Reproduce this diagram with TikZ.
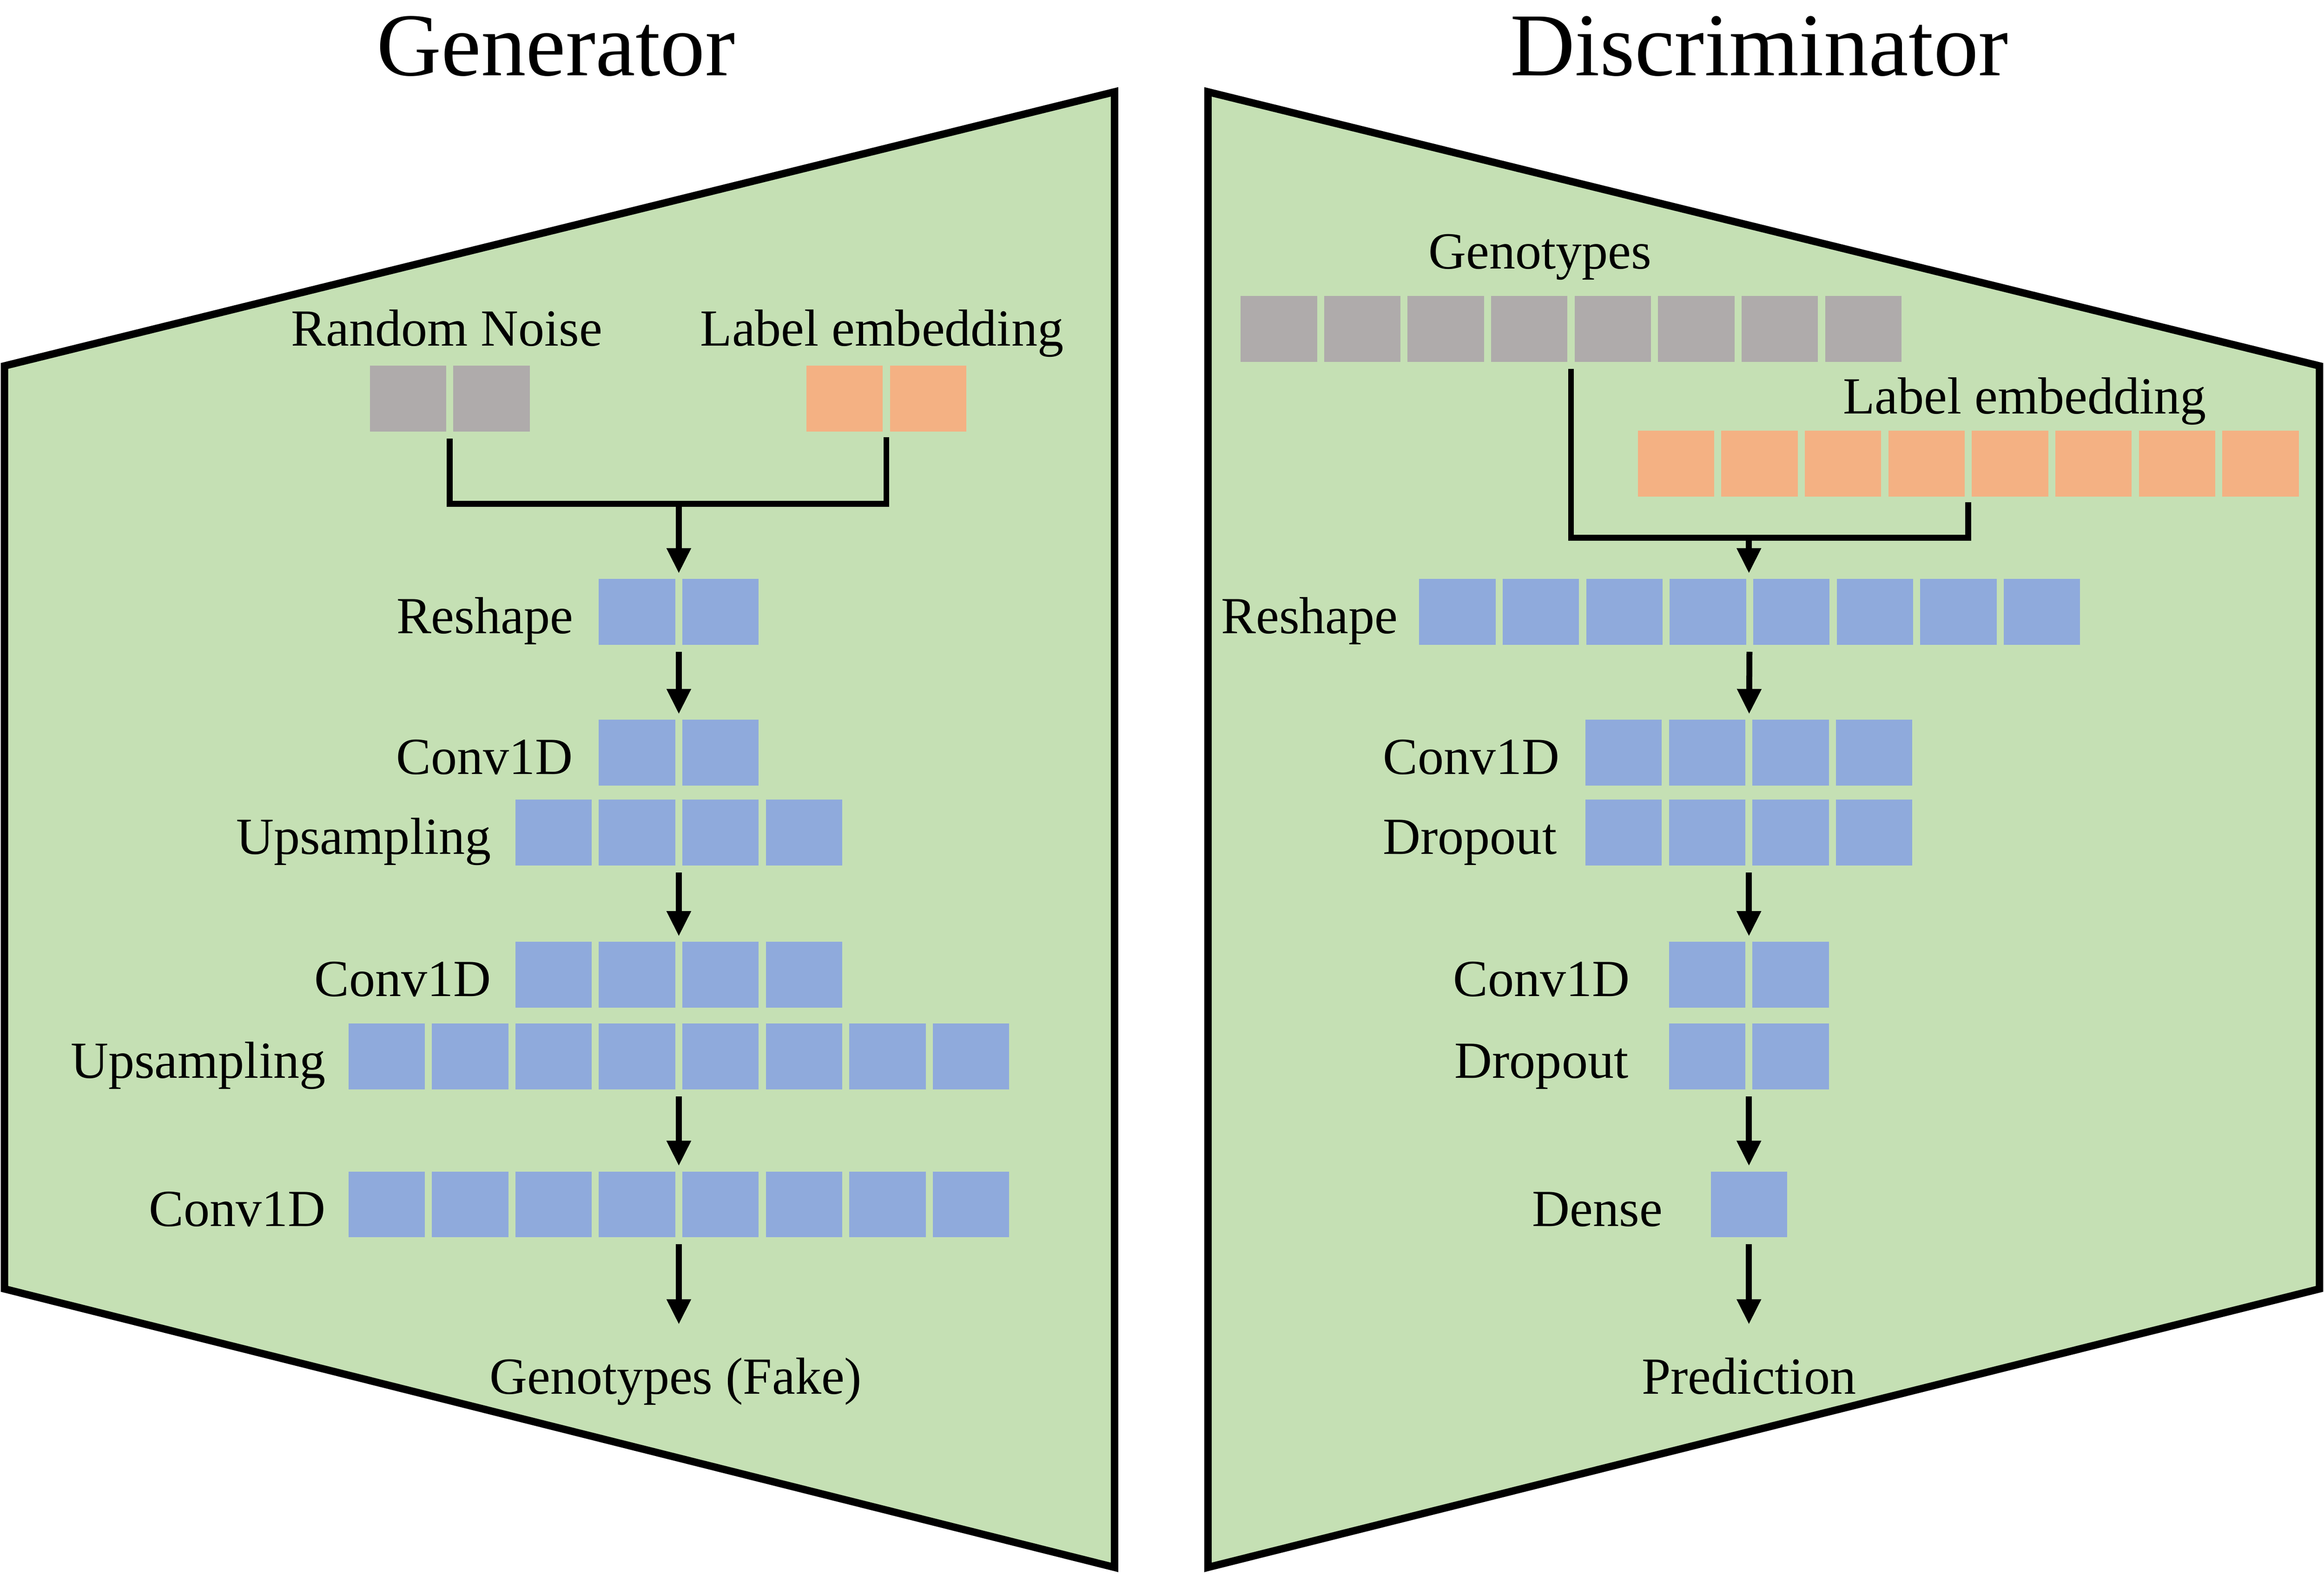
\documentclass[tikz,border=0pt]{standalone}
\usepackage{fontspec}
\setmainfont{Liberation Serif}
\usetikzlibrary{positioning}
\usetikzlibrary{arrows.meta}
\definecolor{panelgreen}{HTML}{C5E0B4}
\definecolor{noisegray}{HTML}{AFABAB}
\definecolor{embedorange}{HTML}{F4B183}
\definecolor{layerblue}{HTML}{8FAADC}
% one layer = a row of #3 cells, named #1, #1-1, #1-2, ...
\newcommand\layer[5]{%
  \node[row, minimum width={#3*0.563cm-0.048cm}] (#1) at (#4,#5) {};
  \foreach \i in {1,...,#3}
    \node[cell, fill=#2, anchor=west, xshift={(\i-1)*0.563cm}] (#1-\i) at (#1.west) {};
}

\begin{document}
\begin{tikzpicture}[x=0.01cm, y=-0.01cm,
  cell/.style={rectangle, inner sep=0, minimum width=0.515cm, minimum height=0.445cm},
  row/.style={rectangle, inner sep=0, minimum height=0.445cm},
  lbl/.style={inner sep=0, font=\fontsize{10}{12}\selectfont, text height=0.66em, text depth=0pt},
  sidelbl/.style={lbl, yshift=-0.03cm},
  outlbl/.style={lbl, inner ysep=0.2cm},
  title/.style={font=\fontsize{17.2}{20}\selectfont, inner sep=0, anchor=base},
  panel/.style={draw, line width=0.05cm, fill=panelgreen, line join=miter},
  conn/.style={line width=0.04cm, shorten <=0.04cm, shorten >=0.03cm},
  arr/.style={conn, -{Triangle[length=0.17cm, width=0.155cm]}}]
\useasboundingbox (0,0) rectangle (1568,1062.4);

% panels
\draw[panel] (3,247) -- (752,62) -- (752,1058) -- (3,870) -- cycle;
\draw[panel] (815,62) -- (1565,247) -- (1565,870) -- (815,1058) -- cycle;
\node[title] (genT) at (375,51) {Generator};
\node[title] (disT) at (1187,51) {Discriminator};

% generator
\layer{noiseG}{noisegray}{2}{303.5}{269}
\layer{embedG}{embedorange}{2}{598}{269}
\node[lbl, above=0.12cm of noiseG, xshift=-0.02cm] (noiseL) {Random Noise};
\node[lbl, above=0.12cm of embedG, xshift=-0.03cm] (embedGL) {Label embedding};
\coordinate (mergeG) at (458,340);
\layer{reshapeG}{layerblue}{2}{458}{413}
\layer{convaG}{layerblue}{2}{458}{508}
\layer{upaG}{layerblue}{4}{458}{562}
\layer{convbG}{layerblue}{4}{458}{658}
\layer{upbG}{layerblue}{8}{458}{713}
\layer{convcG}{layerblue}{8}{458}{813}
\node[sidelbl, left=0.16cm of reshapeG] {Reshape};
\node[sidelbl, left=0.16cm of convaG] {Conv1D};
\node[sidelbl, left=0.15cm of upaG] {Upsampling};
\node[sidelbl, left=0.15cm of convbG] {Conv1D};
\node[sidelbl, left=0.14cm of upbG] {Upsampling};
\node[sidelbl, left=0.14cm of convcG] {Conv1D};
\node[outlbl, below=0.61cm of convcG, xshift=-0.02cm] (fakeG) {Genotypes (Fake)};

\draw[conn] (noiseG.south) |- (mergeG) -| (embedG.south);
\draw[arr, shorten <=0pt] (mergeG) -- (reshapeG);
\draw[arr] (reshapeG) -- (convaG);
\draw[arr] (upaG) -- (convbG);
\draw[arr] (upbG) -- (convcG);
\draw[arr] (convcG) -- (fakeG.north -| convcG);

% discriminator
\layer{genoD}{noisegray}{8}{1060}{222}
\layer{embedD}{embedorange}{8}{1328}{313}
\node[lbl, above=0.17cm of genoD, xshift=-0.21cm] (genoL) {Genotypes};
\node[lbl, above=0.10cm of embedD, xshift=0.38cm] (embedDL) {Label embedding};
\coordinate (mergeD) at (1180,363);
\layer{reshapeD}{layerblue}{8}{1180.5}{413}
\layer{convaD}{layerblue}{4}{1180}{508}
\layer{dropaD}{layerblue}{4}{1180}{562}
\layer{convbD}{layerblue}{2}{1180}{658}
\layer{dropbD}{layerblue}{2}{1180}{713}
\layer{denseD}{layerblue}{1}{1180}{813}
\node[sidelbl, left=0.13cm of reshapeD] {Reshape};
\node[sidelbl, left=0.16cm of convaD] {Conv1D};
\node[sidelbl, left=0.18cm of dropaD] {Dropout};
\node[sidelbl, left=0.25cm of convbD] {Conv1D};
\node[sidelbl, left=0.26cm of dropbD] {Dropout};
\node[sidelbl, left=0.31cm of denseD] {Dense};
\node[outlbl, below=0.61cm of denseD] (predD) {Prediction};

\draw[conn] (genoD.south) |- (mergeD) -| (embedD.south);
\draw[arr, shorten <=0pt] (mergeD) -- (reshapeD.north -| mergeD);
\draw[arr] (reshapeD) -- (convaD);
\draw[arr] (dropaD) -- (convbD);
\draw[arr] (dropbD) -- (denseD);
\draw[arr] (denseD) -- (predD);
\end{tikzpicture}
\end{document}
